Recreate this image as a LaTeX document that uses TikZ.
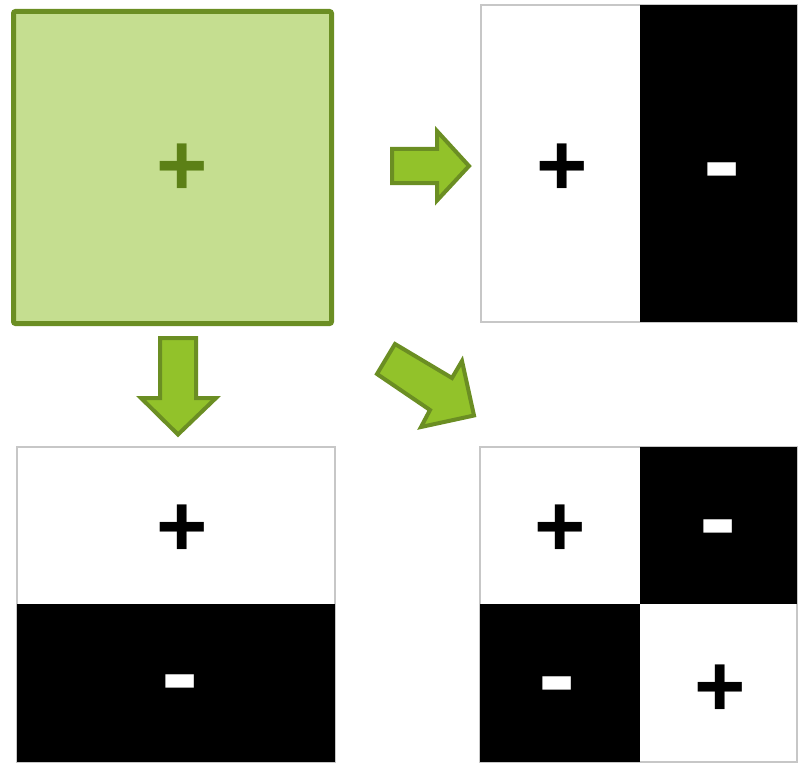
\documentclass[tikz,border=0pt]{standalone}
\usepackage{fontspec}
\setmainfont{Liberation Sans}
\usetikzlibrary{shadows}
\definecolor{oliveline}{RGB}{107,142,35}
\definecolor{squarefill}{RGB}{197,222,144}
\definecolor{arrowfill}{RGB}{146,194,42}
\definecolor{plusgreen}{RGB}{92,128,22}
\begin{document}
\begin{tikzpicture}[x=1pt,y=-1pt,
  cell/.style={inner sep=0pt, outer sep=0pt, draw=none},
  wcell/.style={cell, fill=white, text=black},
  bcell/.style={cell, fill=black, text=white},
  frame/.style={draw=black!22, line width=2.5pt},
  sign/.style={font=\fontsize{88}{88}\selectfont\bfseries, inner sep=0pt},
  minus/.style={font=\fontsize{112}{112}\selectfont\bfseries, inner sep=0pt, text=white},
  blockarrow/.style={draw=oliveline, fill=arrowfill, line width=4pt, line join=miter}]
\useasboundingbox (0,0) rectangle (798,765);
% source square
\node (src) [draw=oliveline, fill=squarefill, line width=5pt, rounded corners=2pt,
  minimum width=318pt, minimum height=312pt, inner sep=0pt,
  drop shadow={opacity=0.2, shadow xshift=2pt, shadow yshift=-2pt}] at (172.5,167.5) {};
\node (srcplus) [sign, text=plusgreen] at (182,170) {+};
% top-right panel
\node (a1) [wcell, minimum width=159pt, minimum height=317pt] at (560.5,163.5) {};
\node (a2) [bcell, minimum width=157pt, minimum height=317pt] at (718.5,163.5) {};
\draw[frame] (a1.north west) rectangle (a2.south east);
\fill (a2.north west) rectangle (a2.south east);
\node (a1t) [sign] at (562,170) {+};
\node (a2t) [minus] at (722,181) {-};
% bottom-left panel
\node (b1) [wcell, minimum width=318pt, minimum height=157pt] at (176,525.5) {};
\node (b2) [bcell, minimum width=318pt, minimum height=158pt] at (176,683) {};
\draw[frame] (b1.north west) rectangle (b2.south east);
\fill (b2.north west) rectangle (b2.south east);
\node (b1t) [sign] at (182,531) {+};
\node (b2t) [minus] at (180,693) {-};
% bottom-right panel
\node (c1) [wcell, minimum width=160pt, minimum height=157pt] at (560,525.5) {};
\node (c2) [bcell, minimum width=157pt, minimum height=157pt] at (718.5,525.5) {};
\node (c3) [bcell, minimum width=160pt, minimum height=158pt] at (560,683) {};
\node (c4) [wcell, minimum width=157pt, minimum height=158pt] at (718.5,683) {};
\draw[frame] (c1.north west) rectangle (c4.south east);
\fill (c2.north west) rectangle (c2.south east);
\fill (c3.north west) rectangle (c3.south east);
\node (c1t) [sign] at (560,531) {+};
\node (c2t) [minus] at (718,538) {-};
\node (c3t) [minus] at (557,695) {-};
\node (c4t) [sign] at (720,691) {+};
% block arrows
\draw[blockarrow] (392,149) -- (437,149) -- (437,131) -- (469,166) -- (437,200.5) -- (437,183) -- (392,183) -- cycle;
\draw[blockarrow] (160,338) -- (196,338) -- (196,398) -- (216,398) -- (178,434.5) -- (141,398) -- (160,398) -- cycle;
\draw[blockarrow] (395,344) -- (452,378) -- (462,361) -- (474,415.5) -- (421,427) -- (430,410) -- (377,374) -- cycle;
\end{tikzpicture}
\end{document}
